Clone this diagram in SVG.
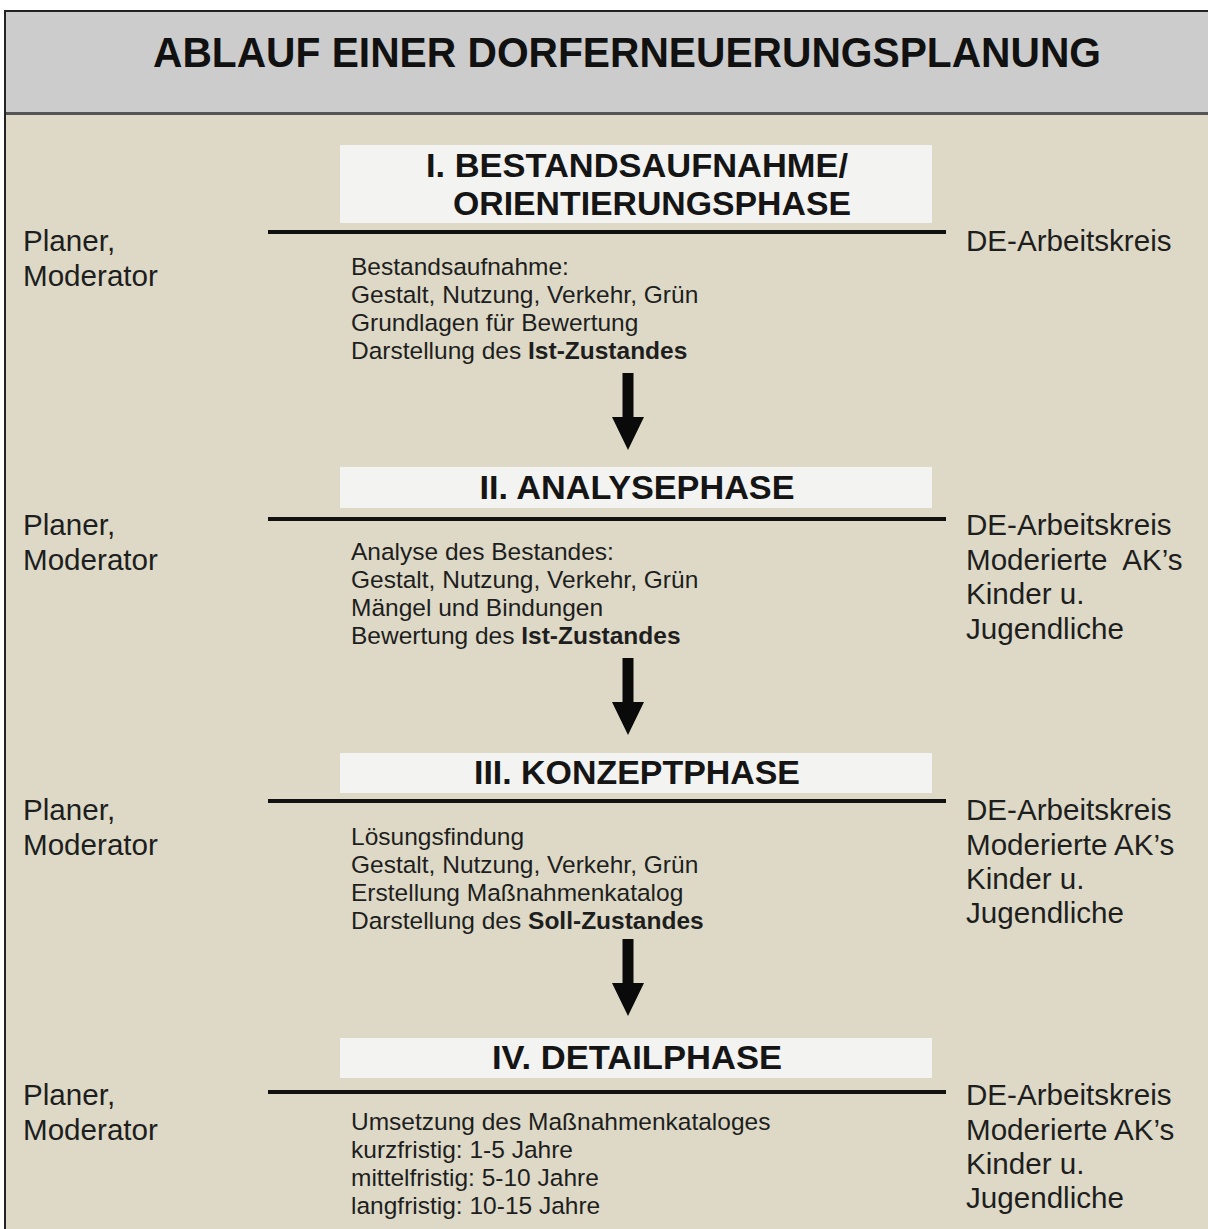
<svg xmlns="http://www.w3.org/2000/svg" width="1208" height="1229" viewBox="0 0 1208 1229">
<style>
.t{font-family:"Liberation Sans",Arial,sans-serif;fill:#1e1e1e}
.title{font-size:42px;font-weight:bold;fill:#111}
.ph{font-size:33px;font-weight:bold;fill:#151515}
.body{font-size:24.5px}
.side{font-size:29.6px}
.b{font-weight:bold}
.box{fill:#f3f3f1}
.rule{stroke:#111;stroke-width:4}
.arrow{fill:#0a0a0a}
</style>
<defs>
<path id="arr" d="M-5.5,0 H5.5 V44 H16 L0,77 L-16,44 H-5.5 Z"/>
</defs>
<rect x="0" y="0" width="1208" height="1229" fill="#ffffff"/>
<rect x="5" y="11" width="1203" height="102" fill="#cccccc"/>
<rect x="5" y="115" width="1203" height="1114" fill="#ddd9c6"/>
<line x1="4" y1="113.5" x2="1208" y2="113.5" stroke="#555" stroke-width="3"/>
<line x1="4" y1="11" x2="1208" y2="11" stroke="#222" stroke-width="2"/>
<line x1="5" y1="10" x2="5" y2="1229" stroke="#222" stroke-width="2"/>
<g id="header">
<text class="t title" x="627" y="67" text-anchor="middle" textLength="948" lengthAdjust="spacingAndGlyphs">ABLAUF EINER DORFERNEUERUNGSPLANUNG</text>
</g>
<g id="phase1">
<rect class="box" x="340" y="145" width="592" height="78"/>
<text class="t ph" x="637" y="177" text-anchor="middle" textLength="422" lengthAdjust="spacingAndGlyphs">I. BESTANDSAUFNAHME/</text>
<text class="t ph" x="652" y="215" text-anchor="middle" textLength="398" lengthAdjust="spacingAndGlyphs">ORIENTIERUNGSPHASE</text>
<line class="rule" x1="268" y1="232" x2="946" y2="232"/>
<text class="t side" x="23" y="251">Planer,</text>
<text class="t side" x="23" y="286">Moderator</text>
<text class="t side" x="966" y="251">DE-Arbeitskreis</text>
<text class="t body" x="351" y="275">Bestandsaufnahme:</text>
<text class="t body" x="351" y="303">Gestalt, Nutzung, Verkehr, Grün</text>
<text class="t body" x="351" y="331">Grundlagen für Bewertung</text>
<text class="t body" x="351" y="359">Darstellung des <tspan class="b">Ist-Zustandes</tspan></text>
</g>
<g id="phase2">
<rect class="box" x="340" y="467" width="592" height="41"/>
<text class="t ph" x="637" y="499" text-anchor="middle" textLength="315" lengthAdjust="spacingAndGlyphs">II. ANALYSEPHASE</text>
<line class="rule" x1="268" y1="519" x2="946" y2="519"/>
<text class="t side" x="23" y="535">Planer,</text>
<text class="t side" x="23" y="570">Moderator</text>
<text class="t side" x="966" y="535">DE-Arbeitskreis</text>
<text class="t side" x="966" y="570">Moderierte&#160; AK’s</text>
<text class="t side" x="966" y="604">Kinder u.</text>
<text class="t side" x="966" y="639">Jugendliche</text>
<text class="t body" x="351" y="560">Analyse des Bestandes:</text>
<text class="t body" x="351" y="588">Gestalt, Nutzung, Verkehr, Grün</text>
<text class="t body" x="351" y="616">Mängel und Bindungen</text>
<text class="t body" x="351" y="644">Bewertung des <tspan class="b">Ist-Zustandes</tspan></text>
</g>
<g id="phase3">
<rect class="box" x="340" y="753" width="592" height="40"/>
<text class="t ph" x="637" y="784" text-anchor="middle" textLength="326" lengthAdjust="spacingAndGlyphs">III. KONZEPTPHASE</text>
<line class="rule" x1="268" y1="801" x2="946" y2="801"/>
<text class="t side" x="23" y="820">Planer,</text>
<text class="t side" x="23" y="855">Moderator</text>
<text class="t side" x="966" y="820">DE-Arbeitskreis</text>
<text class="t side" x="966" y="855">Moderierte AK’s</text>
<text class="t side" x="966" y="889">Kinder u.</text>
<text class="t side" x="966" y="923">Jugendliche</text>
<text class="t body" x="351" y="845">Lösungsfindung</text>
<text class="t body" x="351" y="873">Gestalt, Nutzung, Verkehr, Grün</text>
<text class="t body" x="351" y="901">Erstellung Maßnahmenkatalog</text>
<text class="t body" x="351" y="929">Darstellung des <tspan class="b">Soll-Zustandes</tspan></text>
</g>
<g id="phase4">
<rect class="box" x="340" y="1038" width="592" height="40"/>
<text class="t ph" x="637" y="1069" text-anchor="middle" textLength="290" lengthAdjust="spacingAndGlyphs">IV. DETAILPHASE</text>
<line class="rule" x1="268" y1="1092" x2="946" y2="1092"/>
<text class="t side" x="23" y="1105">Planer,</text>
<text class="t side" x="23" y="1140">Moderator</text>
<text class="t side" x="966" y="1105">DE-Arbeitskreis</text>
<text class="t side" x="966" y="1140">Moderierte AK’s</text>
<text class="t side" x="966" y="1174">Kinder u.</text>
<text class="t side" x="966" y="1208">Jugendliche</text>
<text class="t body" x="351" y="1130">Umsetzung des Maßnahmenkataloges</text>
<text class="t body" x="351" y="1158">kurzfristig: 1-5 Jahre</text>
<text class="t body" x="351" y="1186">mittelfristig: 5-10 Jahre</text>
<text class="t body" x="351" y="1214">langfristig: 10-15 Jahre</text>
</g>
<g id="connectors">
<use href="#arr" class="arrow" x="628" y="373"/>
<use href="#arr" class="arrow" x="628" y="658"/>
<use href="#arr" class="arrow" x="628" y="939"/>
</g>
</svg>
